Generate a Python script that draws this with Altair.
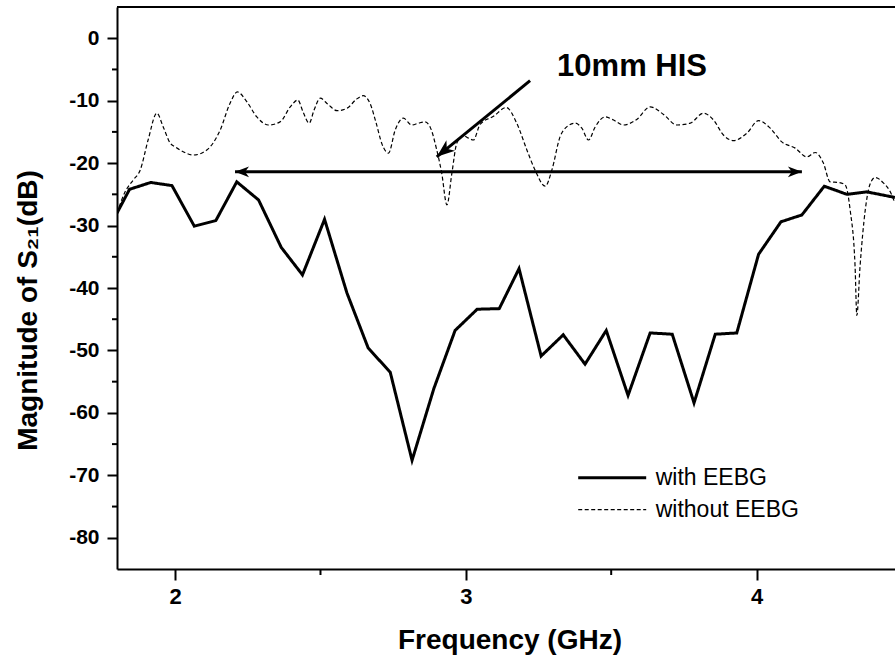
import altair as alt
import pandas as pd

# ---------------- data ----------------
series_names = ["with EEBG", "without EEBG"]

freq_with = [1.80, 1.843, 1.916, 1.989, 2.066, 2.140, 2.212, 2.287, 2.365, 2.438,
             2.514, 2.591, 2.664, 2.740, 2.815, 2.89, 2.963, 3.039, 3.115, 3.183,
             3.259, 3.335, 3.41, 3.483, 3.558, 3.634, 3.71, 3.785, 3.858, 3.932,
             4.007, 4.084, 4.156, 4.233, 4.311, 4.379, 4.476]
s21_with = [-28.0, -24.2, -23.1, -23.6, -30.1, -29.2, -23.0, -25.9, -33.5, -37.9,
            -29.0, -40.8, -49.6, -53.5, -67.6, -56.1, -46.8, -43.4, -43.3, -36.9,
            -50.9, -47.5, -52.2, -46.8, -57.2, -47.2, -47.4, -58.4, -47.4, -47.2,
            -34.6, -29.4, -28.3, -23.7, -25.0, -24.6, -25.5]

freq_without = [1.800, 1.828, 1.856, 1.880, 1.907, 1.937, 1.959, 1.983, 2.000, 2.017,
                2.063, 2.109, 2.155, 2.189, 2.214, 2.247, 2.281, 2.321, 2.361, 2.396,
                2.422, 2.440, 2.461, 2.478, 2.499, 2.526, 2.557, 2.592, 2.623, 2.647,
                2.671, 2.691, 2.712, 2.734, 2.757, 2.785, 2.814, 2.837, 2.860, 2.877,
                2.900, 2.917, 2.935, 2.952, 2.969, 2.990, 3.009, 3.026, 3.049, 3.095,
                3.139, 3.175, 3.210, 3.238, 3.273, 3.296, 3.324, 3.347, 3.376, 3.399,
                3.422, 3.445, 3.479, 3.508, 3.542, 3.588, 3.634, 3.680, 3.726, 3.772,
                3.817, 3.852, 3.886, 3.921, 3.967, 4.007, 4.047, 4.087, 4.133, 4.173,
                4.202, 4.230, 4.253, 4.282, 4.305, 4.322, 4.339, 4.345, 4.356, 4.374,
                4.391, 4.408, 4.437, 4.460, 4.476]
s21_without = [-28.0, -24.6, -22.7, -21.1, -16.3, -12.0, -14.2, -16.8, -17.4, -17.9,
               -18.7, -17.9, -14.7, -10.4, -8.6, -10.2, -12.6, -13.9, -13.4, -11.0,
               -9.9, -11.8, -13.6, -11.5, -9.6, -10.6, -11.6, -11.2, -9.8, -9.2,
               -10.5, -13.5, -17.0, -18.4, -14.7, -12.8, -13.9, -13.6, -13.4, -14.2,
               -17.9, -21.6, -26.7, -21.6, -16.8, -15.6, -16.0, -16.3, -13.8, -12.5,
               -11.1, -13.6, -17.9, -21.1, -23.7, -21.1, -15.8, -14.2, -13.6, -14.4,
               -16.3, -14.2, -12.6, -13.1, -13.9, -13.0, -11.0, -12.2, -13.9, -13.6,
               -12.0, -13.1, -15.5, -16.4, -15.2, -13.2, -14.4, -16.6, -17.6, -19.0,
               -18.3, -20.0, -23.0, -23.1, -23.5, -27.5, -36.6, -44.4, -36.6, -27.5,
               -23.3, -22.3, -23.2, -24.6, -26.4]

# axis ticks
x_major = [2, 3, 4]
x_minor = [2.5, 3.5]
y_major = [-80, -70, -60, -50, -40, -30, -20, -10, 0]
y_minor = [-75, -65, -55, -45, -35, -25, -15, -5]

# annotations
arrow_x0 = [2.206, 3.221]
arrow_y0 = [-21.4, -6.8]
arrow_x1 = [4.156, 2.900]
arrow_y1 = [-21.4, -19.0]
head_x = [2.206, 4.156, 2.900]
head_y = [-21.4, -21.4, -19.0]
head_angle = [270, 90, 230.8]
head_size = [784, 784, 1300]
note_text = ["10mm HIS"]
note_x = [3.314]
note_y = [-6.0]

# ---------------- chart ----------------
W, H = 778, 562
FONT = "Liberation Sans"

x_scale = alt.Scale(domain=[1.8, 4.4763], nice=False, zero=False)
y_scale = alt.Scale(domain=[-85, 5], nice=False, zero=False)

df_with = pd.DataFrame({"f": freq_with, "v": s21_with, "series": series_names[0]})
df_without = pd.DataFrame({"f": freq_without, "v": s21_without, "series": series_names[1]})

legend = alt.Legend(
    title=None, orient="none", legendX=459.7, legendY=454.7,
    symbolType="stroke", symbolSize=4624, clipHeight=32, rowPadding=0,
    padding=0, symbolOffset=0, labelOffset=8, labelFont=FONT,
    labelFontSize=23, labelColor="black", labelFontWeight="normal",
    labelLimit=400,
)

enc_common = dict(
    color=alt.Color("series:O", scale=alt.Scale(domain=series_names, range=["black", "black"]), legend=legend),
    strokeDash=alt.StrokeDash("series:O", scale=alt.Scale(domain=series_names, range=[[1, 0], [4, 2.5]]), legend=legend),
    strokeWidth=alt.StrokeWidth("series:O", scale=alt.Scale(domain=series_names, range=[3, 1.2]), legend=legend),
)

x_enc = alt.X(
    "f:Q", scale=x_scale, title="Frequency (GHz)",
    axis=alt.Axis(values=x_major, tickSize=11, labelPadding=6, labelFontSize=22,
                  titleX=392.5, titleY=79, titleAlign="center", titleBaseline="alphabetic",
                  titleFontSize=28),
)
y_enc = alt.Y(
    "v:Q", scale=y_scale, title="Magnitude of S\u2082\u2081(dB)",
    axis=alt.Axis(values=y_major, tickSize=10, labelPadding=8, labelFontSize=21,
                  labelExpr="replace(datum.label, '\u2212', '-')",
                  titleX=-81, titleY=303, titleAngle=270, titleAlign="center",
                  titleBaseline="alphabetic", titleFontSize=28),
)

line_with = alt.Chart(df_with).mark_line(interpolate="linear", clip=True, strokeJoin="miter").encode(
    x=x_enc, y=y_enc, **enc_common
)
line_without = alt.Chart(df_without).mark_line(interpolate="monotone", clip=True).encode(
    x=x_enc, y=y_enc, **enc_common,
)

arrows_df = pd.DataFrame({"f": arrow_x0, "v": arrow_y0, "f2": arrow_x1, "v2": arrow_y1})
arrows = alt.Chart(arrows_df).mark_rule(color="black", strokeWidth=3).encode(
    x=x_enc, y=y_enc, x2="f2:Q", y2="v2:Q",
)

heads_df = pd.DataFrame({"f": head_x, "v": head_y, "ang": head_angle, "sz": head_size})
heads = alt.Chart(heads_df).mark_point(
    shape="M0,0 L0.38,1 L0,0.72 L-0.38,1 Z", filled=True, color="black", opacity=1, strokeWidth=0
).encode(
    x=x_enc, y=y_enc,
    angle=alt.Angle("ang:Q", scale=None),
    size=alt.Size("sz:Q", scale=None, legend=None),
)

note_df = pd.DataFrame({"f": note_x, "v": note_y, "t": note_text})
note = alt.Chart(note_df).mark_text(
    align="left", baseline="alphabetic", font=FONT, fontSize=31, fontWeight="bold", color="black"
).encode(
    x=x_enc, y=y_enc, text="t:N",
)

yminor = alt.Chart(pd.DataFrame({"v": y_minor})).mark_rule(color="black", strokeWidth=2).encode(
    y=y_enc, x=alt.value(-5), x2=alt.value(0)
)
xminor = alt.Chart(pd.DataFrame({"f": x_minor})).mark_rule(color="black", strokeWidth=2).encode(
    x=x_enc, y=alt.value(H), y2=alt.value(H + 6)
)
top_border = alt.Chart(pd.DataFrame({"a": [0]})).mark_rule(color="black", strokeWidth=2).encode(
    x=alt.value(0), x2=alt.value(W), y=alt.value(0)
)

chart = alt.layer(
    line_without, line_with, arrows, heads, note, yminor, xminor, top_border
).properties(
    width=W, height=H,
    autosize=alt.AutoSizeParams(type="none"),
    padding={"left": 117, "top": 7, "right": 0, "bottom": 97},
    background="white",
).configure_view(stroke=None).configure_axis(
    domainColor="black", domainWidth=2, tickColor="black", tickWidth=2,
    labelFont=FONT, labelFontWeight="bold", labelColor="black",
    titleFont=FONT, titleFontWeight="bold", titleColor="black", grid=False,
)

chart.save("out.html", embed_options={"renderer": "svg", "actions": False})
